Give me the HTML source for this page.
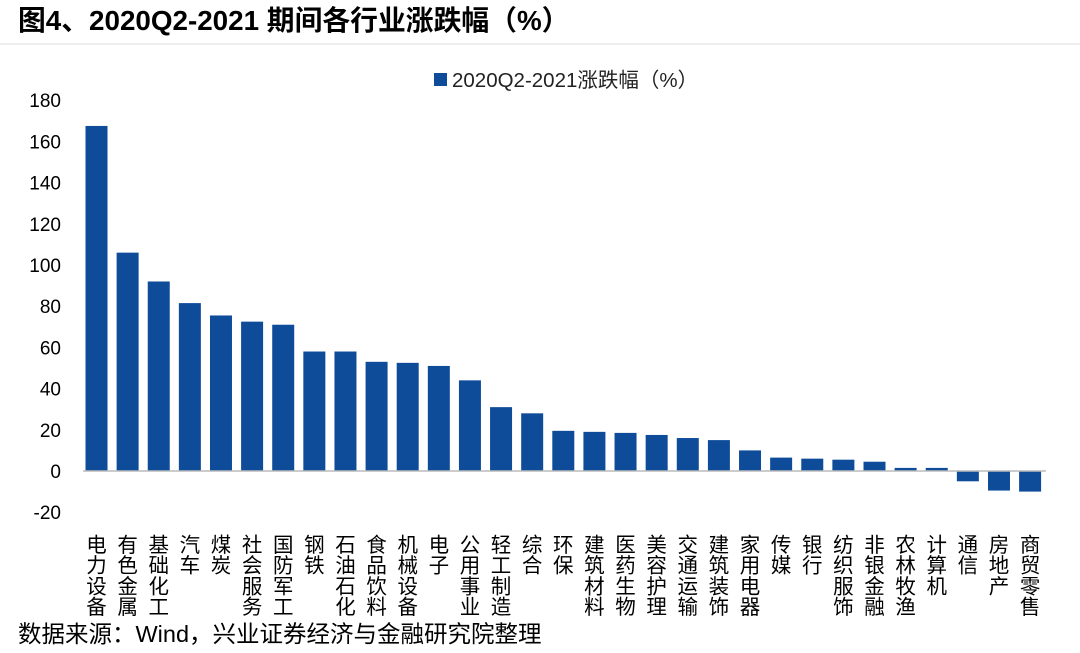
<!DOCTYPE html>
<html><head><meta charset="utf-8"><style>
body{margin:0;background:#fff;width:1080px;height:648px;overflow:hidden;font-family:"Liberation Sans","Noto Sans CJK SC",sans-serif;}
</style></head><body>
<svg width="1080" height="648" xmlns="http://www.w3.org/2000/svg" font-family="Liberation Sans, Noto Sans CJK SC, sans-serif">
<text x="18" y="30" font-size="27.8" font-weight="bold" fill="#000">图4、2020Q2-2021 期间各行业涨跌幅（%）</text>
<line x1="0" y1="44" x2="1080" y2="44" stroke="#ddd" stroke-width="1"/>
<rect x="434" y="73" width="13" height="13" fill="#0e4c9a"/>
<text x="452" y="87" font-size="20.5" fill="#222">2020Q2-2021涨跌幅（%）</text>
<g font-size="19" fill="#000" text-anchor="end" id="yt"></g>
<g id="bars"></g>
<line x1="83" y1="471" x2="1046" y2="471" stroke="#bbb" stroke-width="1.5"/>
<g id="labels" font-size="20.5" fill="#000" text-anchor="middle"></g>
<text x="18" y="642" font-size="23.5" fill="#000">数据来源：Wind，兴业证券经济与金融研究院整理</text>
</svg>
<script>
var ns="http://www.w3.org/2000/svg";
var yt=document.getElementById("yt");
for(var v=180;v>=-20;v-=20){var y=471-v*41.2/20;var t=document.createElementNS(ns,"text");t.setAttribute("x",61);t.setAttribute("y",y+7);t.textContent=v;yt.appendChild(t);}
var names=["电力设备","有色金属","基础化工","汽车","煤炭","社会服务","国防军工","钢铁","石油石化","食品饮料","机械设备","电子","公用事业","轻工制造","综合","环保","建筑材料","医药生物","美容护理","交通运输","建筑装饰","家用电器","传媒","银行","纺织服饰","非银金融","农林牧渔","计算机","通信","房地产","商贸零售"];
var vals=[167.5,106,92,81.5,75.5,72.5,71,58,58,53,52.5,51,44,31,28,19.5,19,18.5,17.5,16,15,10,6.5,6,5.5,4.5,1.5,1.5,-5,-9.5,-10];
var b=document.getElementById("bars"),l=document.getElementById("labels");
for(var i=0;i<31;i++){var cx=96.5+i*31.12;var v=vals[i];var h=Math.abs(v)*41.2/20;var r=document.createElementNS(ns,"rect");r.setAttribute("x",cx-11);r.setAttribute("width",22);r.setAttribute("y",v>=0?471-h:471);r.setAttribute("height",h);r.setAttribute("fill","#0e4c9a");b.appendChild(r);
for(var j=0;j<names[i].length;j++){var t=document.createElementNS(ns,"text");t.setAttribute("x",cx);t.setAttribute("y",552+j*20.7);t.textContent=names[i][j];l.appendChild(t);}}
</script>
</body></html>
